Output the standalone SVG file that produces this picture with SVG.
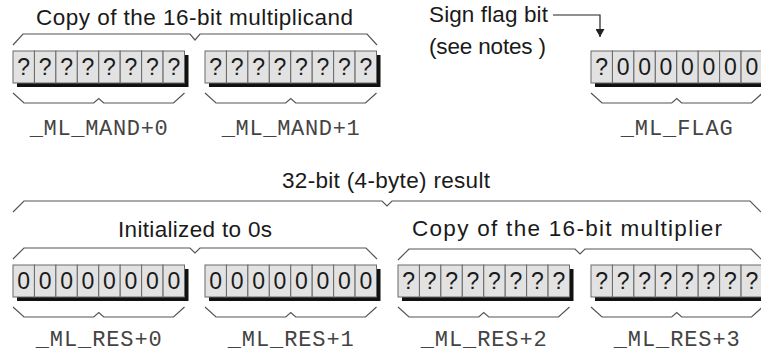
<svg xmlns="http://www.w3.org/2000/svg" xmlns:xlink="http://www.w3.org/1999/xlink" width="761" height="354" viewBox="0 0 761 354">
<style>
  .lbl { font-family: "Liberation Sans", Arial, sans-serif; font-size: 22.5px; fill: #1a1a1a; }
  .cell { fill: #e2e2e2; stroke: #6a6a6a; stroke-width: 1; }
  .shadow { fill: #111; }
  .bit { font-family: "Liberation Sans", Arial, sans-serif; font-size: 23px; fill: #1a1a1a; text-anchor: middle; }
  .mono { font-family: "Liberation Mono", "Courier New", monospace; font-size: 22px; fill: #444; text-anchor: middle; }
  .brace { fill: none; stroke: #555; stroke-width: 1.2; stroke-linejoin: miter; }
  .conn { fill: none; stroke: #222; stroke-width: 1.2; }
</style>
<defs>
  <g id="regbase">
    <rect class="shadow" x="4" y="4" width="171.5" height="32"/>
    <rect class="cell" x="0" y="0" width="21.44" height="32"/>
    <rect class="cell" x="21.44" y="0" width="21.44" height="32"/>
    <rect class="cell" x="42.88" y="0" width="21.44" height="32"/>
    <rect class="cell" x="64.31" y="0" width="21.44" height="32"/>
    <rect class="cell" x="85.75" y="0" width="21.44" height="32"/>
    <rect class="cell" x="107.19" y="0" width="21.44" height="32"/>
    <rect class="cell" x="128.63" y="0" width="21.44" height="32"/>
    <rect class="cell" x="150.06" y="0" width="21.44" height="32"/>
  </g>
  <path id="byteBrace" class="brace" d="M0,0 L11,10 L80.75,10 L85.75,5.5 L90.75,10 L160.5,10 L171.5,0"/>
  <marker id="arrowhead" markerWidth="9" markerHeight="9" refX="8" refY="4.5" orient="auto" markerUnits="userSpaceOnUse">
    <path d="M0,0 L8,4.5 L0,9 Z" fill="#222"/>
  </marker>
</defs>

<!-- Top row -->
<g id="mand-label">
  <text class="lbl" x="36" y="25" textLength="317" lengthAdjust="spacing">Copy of the 16-bit multiplicand</text>
  <path class="brace" d="M13,45 L23,34 L190,34 L195,40 L200,34 L367,34 L377,45"/>
</g>

<g id="ml-mand0">
  <use xlink:href="#regbase" x="13" y="51"/>
  <g class="bit">
    <text x="23.7" y="75">?</text><text x="45.2" y="75">?</text><text x="66.6" y="75">?</text><text x="88" y="75">?</text>
    <text x="109.5" y="75">?</text><text x="130.9" y="75">?</text><text x="152.3" y="75">?</text><text x="173.8" y="75">?</text>
  </g>
  <use xlink:href="#byteBrace" x="13" y="93"/>
  <text class="mono" x="98.75" y="135" textLength="138" lengthAdjust="spacing">_ML_MAND+0</text>
</g>

<g id="ml-mand1">
  <use xlink:href="#regbase" x="205" y="51"/>
  <g class="bit">
    <text x="215.7" y="75">?</text><text x="237.2" y="75">?</text><text x="258.6" y="75">?</text><text x="280" y="75">?</text>
    <text x="301.5" y="75">?</text><text x="322.9" y="75">?</text><text x="344.3" y="75">?</text><text x="365.8" y="75">?</text>
  </g>
  <use xlink:href="#byteBrace" x="205" y="93"/>
  <text class="mono" x="290.75" y="135" textLength="138" lengthAdjust="spacing">_ML_MAND+1</text>
</g>

<g id="sign-note">
  <text class="lbl" x="429" y="22" textLength="119" lengthAdjust="spacing">Sign flag bit</text>
  <text class="lbl" x="429" y="54" textLength="117" lengthAdjust="spacing">(see notes )</text>
</g>

<g id="ml-flag">
  <use xlink:href="#regbase" x="591" y="51"/>
  <g class="bit">
    <text x="601.7" y="75">?</text><text x="623.2" y="75">0</text><text x="644.6" y="75">0</text><text x="666" y="75">0</text>
    <text x="687.5" y="75">0</text><text x="708.9" y="75">0</text><text x="730.3" y="75">0</text><text x="751.8" y="75">0</text>
  </g>
  <use xlink:href="#byteBrace" x="591" y="93"/>
  <text class="mono" x="676.75" y="135" textLength="112" lengthAdjust="spacing">_ML_FLAG</text>
</g>

<!-- Bottom row -->
<g id="result-label">
  <text class="lbl" x="282" y="188" textLength="208" lengthAdjust="spacing">32-bit (4-byte) result</text>
  <path class="brace" d="M13,212 L24,201 L382,201 L387,206 L392,201 L750,201 L761,212"/>
</g>

<g id="init-label">
  <text class="lbl" x="118" y="237" textLength="154" lengthAdjust="spacing">Initialized to 0s</text>
  <path class="brace" d="M13,259 L24,248 L190,248 L195,253 L200,248 L366,248 L377,259"/>
</g>

<g id="multiplier-label">
  <text class="lbl" x="412" y="236" textLength="310" lengthAdjust="spacing">Copy of the 16-bit multiplier</text>
  <path class="brace" d="M398,260 L409,249 L575,249 L580,254 L585,249 L751,249 L762,260"/>
</g>

<g id="ml-res0">
  <use xlink:href="#regbase" x="13" y="265"/>
  <g class="bit">
    <text x="23.7" y="289">0</text><text x="45.2" y="289">0</text><text x="66.6" y="289">0</text><text x="88" y="289">0</text>
    <text x="109.5" y="289">0</text><text x="130.9" y="289">0</text><text x="152.3" y="289">0</text><text x="173.8" y="289">0</text>
  </g>
  <use xlink:href="#byteBrace" x="13" y="307"/>
  <text class="mono" x="98.75" y="346" textLength="126" lengthAdjust="spacing">_ML_RES+0</text>
</g>

<g id="ml-res1">
  <use xlink:href="#regbase" x="205" y="265"/>
  <g class="bit">
    <text x="215.7" y="289">0</text><text x="237.2" y="289">0</text><text x="258.6" y="289">0</text><text x="280" y="289">0</text>
    <text x="301.5" y="289">0</text><text x="322.9" y="289">0</text><text x="344.3" y="289">0</text><text x="365.8" y="289">0</text>
  </g>
  <use xlink:href="#byteBrace" x="205" y="307"/>
  <text class="mono" x="290.75" y="346" textLength="126" lengthAdjust="spacing">_ML_RES+1</text>
</g>

<g id="ml-res2">
  <use xlink:href="#regbase" x="398" y="265"/>
  <g class="bit">
    <text x="408.7" y="289">?</text><text x="430.2" y="289">?</text><text x="451.6" y="289">?</text><text x="473" y="289">?</text>
    <text x="494.5" y="289">?</text><text x="515.9" y="289">?</text><text x="537.3" y="289">?</text><text x="558.8" y="289">?</text>
  </g>
  <use xlink:href="#byteBrace" x="398" y="307"/>
  <text class="mono" x="483.75" y="346" textLength="126" lengthAdjust="spacing">_ML_RES+2</text>
</g>

<g id="ml-res3">
  <use xlink:href="#regbase" x="591" y="265"/>
  <g class="bit">
    <text x="601.7" y="289">?</text><text x="623.2" y="289">?</text><text x="644.6" y="289">?</text><text x="666" y="289">?</text>
    <text x="687.5" y="289">?</text><text x="708.9" y="289">?</text><text x="730.3" y="289">?</text><text x="751.8" y="289">?</text>
  </g>
  <use xlink:href="#byteBrace" x="591" y="307"/>
  <text class="mono" x="676.75" y="346" textLength="126" lengthAdjust="spacing">_ML_RES+3</text>
</g>

<g id="connectors">
  <path class="conn" d="M553,15 L600,15 L600,37" marker-end="url(#arrowhead)"/>
</g>
</svg>
